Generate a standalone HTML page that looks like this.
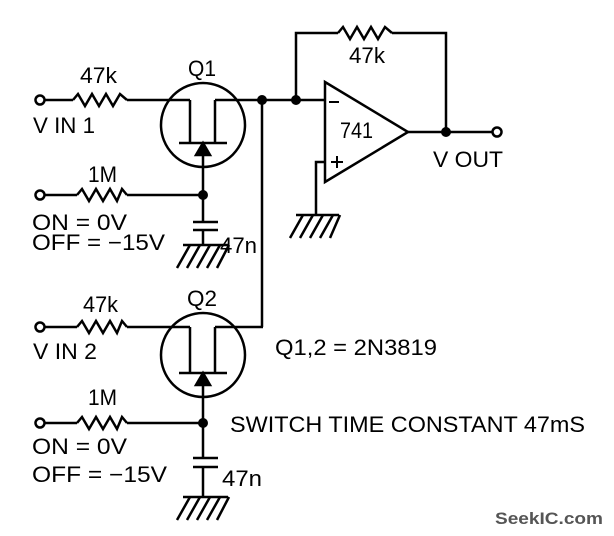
<!DOCTYPE html>
<html><head><style>html,body{margin:0;padding:0;background:#fff}svg{display:block}</style></head><body>
<svg width="614" height="536" viewBox="0 0 614 536" xmlns="http://www.w3.org/2000/svg" font-family="Liberation Sans, Arial, sans-serif" fill="none" stroke="#000" stroke-width="2.5">
<!-- Q1 -->
<circle cx="40" cy="100" r="4.5" fill="#fff"/>
<line x1="45" y1="100" x2="73" y2="100"/>
<polyline points="73,100 78,94 85,106 92,94 99,106 106,94 113,106 120,94 127,100"/>
<line x1="127" y1="100" x2="190" y2="100"/>
<circle cx="203" cy="125" r="42"/>
<line x1="190" y1="100" x2="190" y2="143"/>
<line x1="215" y1="100" x2="215" y2="143"/>
<line x1="215" y1="100" x2="296" y2="100"/>
<line x1="179" y1="143" x2="227" y2="143"/>
<polygon points="203,143 196,155 210,155" fill="#000"/>
<line x1="203" y1="155" x2="203" y2="222"/>
<circle cx="40" cy="195" r="4.5" fill="#fff"/>
<line x1="45" y1="195" x2="77" y2="195"/>
<polyline points="77,195 82,189 89,201 96,189 103,201 110,189 117,201 122,189 127,195"/>
<line x1="127" y1="195" x2="203" y2="195"/>
<circle cx="203" cy="195" r="5" fill="#000" stroke="none"/>
<line x1="193" y1="222" x2="218" y2="222"/>
<line x1="193" y1="230" x2="218" y2="230"/>
<line x1="203" y1="230" x2="203" y2="245"/>
<line x1="183" y1="245" x2="228" y2="245"/>
<path d="M190,245 L177,268 M200,245 L187,268 M210,245 L197,268 M220,245 L207,268 M229,245 L217,268"/>
<!-- bus -->
<circle cx="262" cy="100" r="5" fill="#000" stroke="none"/>
<circle cx="296" cy="100" r="5" fill="#000" stroke="none"/>
<line x1="262" y1="100" x2="262" y2="327"/>
<line x1="296" y1="100" x2="325" y2="100"/>
<!-- opamp -->
<polygon points="325,82 325,182 408,132"/>
<line x1="408" y1="132" x2="493" y2="132"/>
<circle cx="446" cy="132" r="5" fill="#000" stroke="none"/>
<circle cx="497" cy="132" r="4.5" fill="#fff"/>
<polyline points="296,100 296,33 338,33"/>
<polyline points="338,33 343,27 350,39 357,27 364,39 371,27 378,39 385,27 392,33"/>
<polyline points="392,33 446,33 446,132"/>
<polyline points="325,162 316,162 316,215"/>
<line x1="296" y1="215" x2="339" y2="215"/>
<path d="M303,215 L290,238 M313,215 L300,238 M323,215 L310,238 M333,215 L320,238 M340,215 L330,238"/>
<line x1="329" y1="102" x2="339" y2="102" stroke-width="2"/>
<path d="M331,162 h12 M337,156 v12" stroke-width="2"/>
<!-- Q2 -->
<circle cx="40" cy="327" r="4.5" fill="#fff"/>
<line x1="45" y1="327" x2="77" y2="327"/>
<polyline points="77,327 82,321 89,333 96,321 103,333 110,321 117,333 122,321 127,327"/>
<line x1="127" y1="327" x2="190" y2="327"/>
<circle cx="203" cy="355" r="42"/>
<line x1="190" y1="327" x2="190" y2="373"/>
<line x1="215" y1="327" x2="215" y2="373"/>
<line x1="215" y1="327" x2="263" y2="327"/>
<line x1="179" y1="373" x2="227" y2="373"/>
<polygon points="203,373 196,385 210,385" fill="#000"/>
<line x1="203" y1="385" x2="203" y2="458"/>
<circle cx="40" cy="423" r="4.5" fill="#fff"/>
<line x1="45" y1="423" x2="77" y2="423"/>
<polyline points="77,423 82,417 89,429 96,417 103,429 110,417 117,429 122,417 127,423"/>
<line x1="127" y1="423" x2="203" y2="423"/>
<circle cx="203" cy="423" r="5" fill="#000" stroke="none"/>
<line x1="193" y1="458" x2="218" y2="458"/>
<line x1="193" y1="467" x2="218" y2="467"/>
<line x1="203" y1="467" x2="203" y2="497"/>
<line x1="183" y1="497" x2="228" y2="497"/>
<path d="M190,497 L177,520 M200,497 L187,520 M210,497 L197,520 M220,497 L207,520 M229,497 L217,520"/>
<g fill="#000" stroke="none" font-size="22">
<text x="80" y="83" textLength="37" lengthAdjust="spacingAndGlyphs">47k</text>
<text x="188" y="76" textLength="28" lengthAdjust="spacingAndGlyphs">Q1</text>
<text x="33" y="133" textLength="62" lengthAdjust="spacingAndGlyphs">V IN 1</text>
<text x="88" y="182" textLength="29" lengthAdjust="spacingAndGlyphs">1M</text>
<text x="32" y="230" textLength="95" lengthAdjust="spacingAndGlyphs">ON = 0V</text>
<text x="32" y="250" textLength="133" lengthAdjust="spacingAndGlyphs">OFF = −15V</text>
<text x="220" y="253" textLength="37" lengthAdjust="spacingAndGlyphs">47n</text>
<text x="83" y="312" textLength="35" lengthAdjust="spacingAndGlyphs">47k</text>
<text x="187" y="306" textLength="30" lengthAdjust="spacingAndGlyphs">Q2</text>
<text x="33" y="359" textLength="64" lengthAdjust="spacingAndGlyphs">V IN 2</text>
<text x="88" y="405" textLength="29" lengthAdjust="spacingAndGlyphs">1M</text>
<text x="32" y="454" textLength="95" lengthAdjust="spacingAndGlyphs">ON = 0V</text>
<text x="32" y="482" textLength="135" lengthAdjust="spacingAndGlyphs">OFF = −15V</text>
<text x="222" y="486" textLength="40" lengthAdjust="spacingAndGlyphs">47n</text>
<text x="275" y="355" textLength="162" lengthAdjust="spacingAndGlyphs">Q1,2 = 2N3819</text>
<text x="230" y="432" textLength="355" lengthAdjust="spacingAndGlyphs">SWITCH TIME CONSTANT 47mS</text>
<text x="340" y="138" textLength="33" lengthAdjust="spacingAndGlyphs">741</text>
<text x="433" y="167" textLength="70" lengthAdjust="spacingAndGlyphs">V OUT</text>
<text x="349" y="63" textLength="36" lengthAdjust="spacingAndGlyphs">47k</text>
<text x="495" y="524" fill="#555" font-weight="bold" font-size="17" textLength="108" lengthAdjust="spacingAndGlyphs">SeekIC.com</text>
</g>
</svg>
</body></html>
